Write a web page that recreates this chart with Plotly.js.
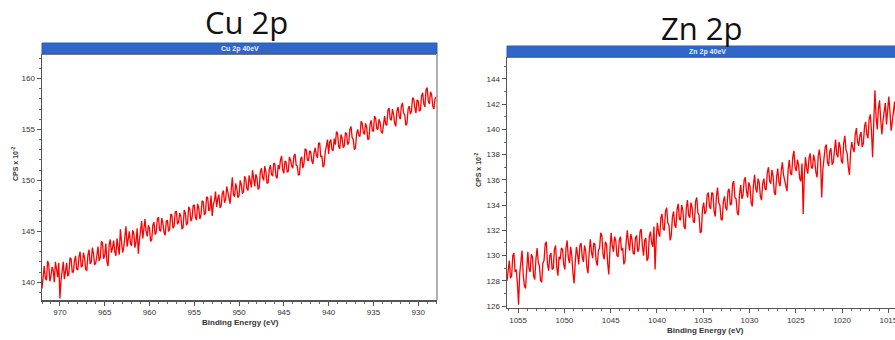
<!DOCTYPE html>
<html>
<head>
<meta charset="utf-8">
<script src="https://cdn.plot.ly/plotly-3.0.1.min.js"></script>
<style>
html,body{margin:0;padding:0;background:#fff;overflow:hidden;width:895px;height:340px;}
#chart{width:920px;height:340px;}
</style>
</head>
<body>
<div id="chart"></div>
<script>
// Cu 2p spectrum: binding energy from 972 eV down, step 0.125 eV
const cuStart = 972.0;
const cuStep = -0.125;
const cuCps = [
 139.4,140.9,141.6,140.4,140.2,142.1,141.8,140.1,140.6,141.5,141.2,140.0,142.0,141.3,140.5,141.9,
 138.4,140.2,141.1,142.0,140.3,141.4,141.9,140.6,140.8,142.4,142.3,141.0,141.0,142.1,142.6,141.3,
 141.2,142.5,143.0,141.5,141.6,142.9,142.4,141.3,141.1,142.7,143.2,141.8,142.0,143.4,142.8,141.7,
 141.9,142.6,143.5,142.1,142.4,144.0,143.9,142.3,142.6,143.8,142.0,141.6,143.7,144.2,142.9,143.4,
 144.1,143.0,142.6,144.3,143.6,142.7,145.2,144.0,142.9,143.4,144.4,145.5,143.5,144.2,145.0,143.8,
 143.6,145.1,144.8,143.4,144.0,145.3,142.8,144.1,145.4,146.0,144.3,145.2,146.2,145.0,144.5,145.6,
 145.3,144.0,144.2,145.6,145.9,144.7,144.9,146.2,146.4,145.1,145.0,146.3,145.8,144.9,144.6,146.0,
 146.1,145.0,145.2,146.7,146.6,145.3,145.5,146.9,147.0,145.7,145.9,146.8,146.5,145.2,145.4,147.1,
 146.8,145.6,145.8,147.4,147.2,146.0,146.3,147.5,147.6,146.4,146.1,147.7,147.3,146.2,146.6,148.0,
 147.9,146.6,146.8,148.4,148.3,147.0,147.2,148.5,146.5,147.6,148.0,148.9,147.4,148.2,148.6,147.3,
 147.5,148.7,149.0,147.8,148.1,149.4,148.8,147.9,147.7,149.1,150.3,148.6,148.4,149.7,149.2,148.3,
 148.5,150.0,149.6,148.7,148.9,150.4,150.1,149.2,149.0,150.5,149.8,149.3,151.0,150.2,149.4,150.6,
 150.2,149.1,149.3,150.8,151.2,150.3,150.0,151.4,150.8,149.7,149.8,151.1,151.5,150.6,150.4,151.7,
 151.6,150.4,150.2,151.5,151.1,152.0,152.4,151.0,150.7,151.9,151.8,150.8,150.9,152.3,152.0,151.4,
 151.2,152.4,152.6,151.5,151.4,150.5,150.6,152.1,152.3,151.2,151.7,153.1,153.0,152.0,151.9,152.9,
 152.8,151.9,151.6,152.7,153.2,152.5,152.2,153.6,153.7,152.3,152.4,151.3,151.5,152.8,153.3,154.0,
 152.6,153.8,154.0,153.0,152.9,154.1,153.5,154.8,154.6,153.3,153.1,154.5,154.2,153.2,153.4,154.7,
 154.6,153.5,153.7,155.0,155.3,154.2,154.0,153.0,153.2,154.6,155.0,154.4,154.3,155.8,155.6,154.7,
 154.5,155.6,155.2,154.0,154.1,155.5,155.9,154.9,154.8,156.3,156.1,155.1,155.0,156.0,155.7,154.8,
 154.6,155.8,156.3,155.5,155.4,156.9,157.1,156.0,155.9,157.0,156.5,155.6,155.3,156.8,157.2,156.3,
 156.0,157.3,157.6,156.6,156.4,155.4,155.6,157.0,157.3,156.5,156.8,158.1,158.0,157.1,156.6,157.9,
 157.8,156.8,156.9,158.3,158.6,157.5,157.2,158.9,159.1,157.8,157.5,158.7,158.4,157.3,157.0,158.0,
 158.2
];

// Zn 2p spectrum: binding energy from 1056.2 eV down, step 0.125 eV
const znStart = 1056.2;
const znStep = -0.125;
const znCps = [
 128.0,129.1,129.6,128.2,128.4,130.0,130.2,128.7,128.9,127.8,126.1,128.6,129.8,130.4,128.5,127.6,
 127.4,129.2,130.3,129.0,128.7,130.1,129.9,128.4,128.1,129.7,130.6,129.5,129.2,128.0,127.9,129.4,
 129.6,130.9,131.1,129.3,128.8,130.0,130.2,128.9,129.0,130.5,130.8,129.1,128.4,129.9,129.7,130.6,
 130.5,129.3,128.9,130.6,131.2,129.8,129.4,130.7,130.0,128.6,127.8,129.5,130.7,130.1,129.3,130.8,
 131.0,129.9,129.5,130.8,130.4,129.1,128.6,130.2,131.3,130.3,129.8,131.0,130.9,129.6,129.2,130.4,
 130.6,131.8,131.6,130.1,129.7,131.1,130.9,129.4,128.5,130.5,131.8,130.8,130.3,131.5,131.2,130.0,
 129.9,131.2,131.5,130.4,130.6,129.3,129.6,131.1,132.0,131.0,130.4,131.7,131.3,130.2,130.1,131.4,
 131.6,130.3,130.5,131.9,132.1,130.8,130.0,131.2,131.4,129.6,129.8,131.5,131.9,131.0,130.7,132.3,
 128.9,131.4,132.6,131.8,131.5,133.0,133.3,132.1,132.0,133.5,133.8,132.6,132.4,131.2,131.6,133.1,
 133.5,132.4,132.2,133.7,134.1,132.9,132.8,134.0,133.6,132.3,132.1,133.8,134.4,133.2,133.0,134.2,
 133.8,132.7,132.6,134.3,134.6,133.4,133.2,131.8,131.9,133.7,134.2,133.3,133.5,134.8,135.0,133.9,
 133.7,135.0,134.9,133.5,133.1,134.7,135.4,134.2,134.0,132.9,132.8,134.3,134.7,133.8,133.6,135.1,
 135.3,134.0,134.1,135.7,135.9,134.6,134.5,133.4,133.2,134.9,135.6,134.5,134.8,136.0,136.2,135.1,
 134.6,135.8,135.5,134.2,133.9,135.6,136.4,135.3,135.0,136.1,135.8,134.7,134.4,135.7,136.1,135.3,
 135.2,136.6,137.0,135.9,135.7,136.8,136.3,135.0,134.8,136.2,136.9,135.8,135.5,136.7,137.4,136.4,
 136.0,135.4,135.1,136.8,137.6,136.5,136.4,137.8,138.3,137.0,136.7,137.6,137.2,136.1,135.9,137.3,
 133.3,136.4,137.8,136.9,136.5,137.7,138.1,137.0,136.9,138.0,137.5,136.6,136.2,137.9,138.4,137.5,
 134.6,136.8,137.9,138.6,138.8,137.4,137.1,138.3,138.5,137.2,137.4,138.7,139.2,138.0,137.8,139.0,
 138.6,137.5,137.3,138.9,139.5,138.4,138.1,137.0,136.4,138.2,139.0,138.5,138.2,139.6,140.1,139.0,
 138.7,139.5,139.8,138.6,138.9,140.2,140.6,139.6,139.3,140.8,141.2,139.9,137.8,140.5,143.1,141.0,
 140.0,141.6,142.3,140.8,139.6,140.7,141.5,142.1,140.4,141.3,142.6,141.4,139.9,140.6,141.7,142.2,
 140.8,141.5,142.0,140.9,141.1,142.4,140.3,140.7,141.9
];

const panelTitles = ["Cu 2p", "Zn 2p"];
const headerTexts = ["Cu 2p 40eV", "Zn 2p 40eV"];
const xTitle = "Binding Energy (eV)";
const yTitle = "CPS x 10<sup>-2</sup>";

const W = 920, H = 340;
const px = v => v / W;
const py = v => 1 - v / H;

const tickFont = {family: "Liberation Sans, Arial, sans-serif", size: 8, color: "#333"};
const axisCommon = {
  showgrid: false, zeroline: false, showline: true, linecolor: "#555", linewidth: 1.5,
  ticks: "outside", ticklen: 4, tickwidth: 1, tickcolor: "#555",
  tickfont: tickFont, fixedrange: true
};

const traces = [
  {type: "scatter", mode: "lines", x0: cuStart, dx: cuStep, y: cuCps,
   line: {color: "#ff0000", width: 1.3}, xaxis: "x", yaxis: "y", hoverinfo: "skip"},
  {type: "scatter", mode: "lines", x0: znStart, dx: znStep, y: znCps,
   line: {color: "#ff0000", width: 1.3}, xaxis: "x2", yaxis: "y2", hoverinfo: "skip"}
];

const layout = {
  width: W, height: H,
  margin: {l: 0, r: 0, t: 0, b: 0},
  paper_bgcolor: "#fff", plot_bgcolor: "#fff",
  showlegend: false,
  xaxis: Object.assign({}, axisCommon, {
    domain: [px(42), px(437)], range: [972.0, 927.9], dtick: 5, tick0: 930,
    minor: {dtick: 1, ticklen: 2, ticks: "outside", tickcolor: "#666", showgrid: false},
    anchor: "y"
  }),
  yaxis: Object.assign({}, axisCommon, {
    domain: [py(300), py(54)], range: [138.26, 162.4], dtick: 5, tick0: 140,
    minor: {dtick: 1, ticklen: 2, ticks: "outside", tickcolor: "#666", showgrid: false},
    anchor: "x"
  }),
  xaxis2: Object.assign({}, axisCommon, {
    domain: [px(507), px(905)], range: [1056.2, 1013.2], dtick: 5, tick0: 1015,
    minor: {dtick: 1, ticklen: 2, ticks: "outside", tickcolor: "#666", showgrid: false},
    anchor: "y2"
  }),
  yaxis2: Object.assign({}, axisCommon, {
    domain: [py(307.7), py(57)], range: [125.87, 145.74], dtick: 2, tick0: 126,
    minor: {dtick: 1, ticklen: 2, ticks: "outside", tickcolor: "#666", showgrid: false},
    anchor: "x2"
  }),
  shapes: [
    {type: "rect", xref: "paper", yref: "paper", x0: px(42), x1: px(437), y0: py(54), y1: py(43),
     fillcolor: "#2f67c8", line: {color: "#2a5db5", width: 1}, layer: "above"},
    {type: "rect", xref: "paper", yref: "paper", x0: px(507), x1: px(910), y0: py(57), y1: py(46),
     fillcolor: "#2f67c8", line: {color: "#2a5db5", width: 1}, layer: "above"},
    {type: "line", xref: "paper", yref: "paper", x0: px(42), x1: px(437), y0: py(54.5), y1: py(54.5),
     line: {color: "#777", width: 1}},
    {type: "line", xref: "paper", yref: "paper", x0: px(507), x1: px(910), y0: py(57.5), y1: py(57.5),
     line: {color: "#777", width: 1}},
    {type: "line", xref: "paper", yref: "paper", x0: px(437), x1: px(437), y0: py(300), y1: py(54),
     line: {color: "#b0b0b0", width: 2}}
  ],
  annotations: [
    {text: panelTitles[0], xref: "paper", yref: "paper", x: px(246), y: py(22), showarrow: false,
     xanchor: "center", yanchor: "middle", font: {family: "Open Sans, Noto Sans, sans-serif", size: 31, color: "#111"}},
    {text: panelTitles[1], xref: "paper", yref: "paper", x: px(702), y: py(28), showarrow: false,
     xanchor: "center", yanchor: "middle", font: {family: "Open Sans, Noto Sans, sans-serif", size: 31, color: "#111"}},
    {text: "<b>" + headerTexts[0] + "</b>", xref: "paper", yref: "paper", x: px(240), y: py(48.8), showarrow: false,
     xanchor: "center", yanchor: "middle", font: {family: "Liberation Sans, Arial, sans-serif", size: 7, color: "#e8eefc"}},
    {text: "<b>" + headerTexts[1] + "</b>", xref: "paper", yref: "paper", x: px(707), y: py(51.8), showarrow: false,
     xanchor: "center", yanchor: "middle", font: {family: "Liberation Sans, Arial, sans-serif", size: 7, color: "#e8eefc"}},
    {text: "<b>" + xTitle + "</b>", xref: "paper", yref: "paper", x: px(240), y: py(322.5), showarrow: false,
     xanchor: "center", yanchor: "middle", font: {family: "Liberation Sans, Arial, sans-serif", size: 8, color: "#333"}},
    {text: "<b>" + xTitle + "</b>", xref: "paper", yref: "paper", x: px(705.5), y: py(330), showarrow: false,
     xanchor: "center", yanchor: "middle", font: {family: "Liberation Sans, Arial, sans-serif", size: 8, color: "#333"}},
    {text: "<b>" + yTitle + "</b>", xref: "paper", yref: "paper", x: px(15), y: py(164), showarrow: false,
     textangle: -90, xanchor: "center", yanchor: "middle", font: {family: "Liberation Sans, Arial, sans-serif", size: 7, color: "#333"}},
    {text: "<b>" + yTitle + "</b>", xref: "paper", yref: "paper", x: px(478), y: py(170), showarrow: false,
     textangle: -90, xanchor: "center", yanchor: "middle", font: {family: "Liberation Sans, Arial, sans-serif", size: 7, color: "#333"}}
  ]
};

Plotly.newPlot("chart", traces, layout, {staticPlot: true, displayModeBar: false});
</script>
</body>
</html>
